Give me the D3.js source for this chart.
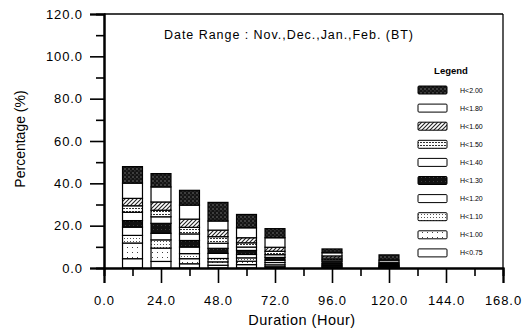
<!DOCTYPE html>
<html><head><meta charset="utf-8">
<script src="https://cdn.jsdelivr.net/npm/d3@7"></script>
<style>
body{margin:0;background:#fff}
svg{display:block}
text{font-family:"Liberation Sans",Arial,sans-serif;fill:#000}
</style>
</head><body>
<svg id="c" width="522" height="333"></svg>
<script>
// ---- data ----
const durations = [12, 24, 36, 48, 60, 72, 96, 120];
const classes = ["H<0.75","H<1.00","H<1.10","H<1.20","H<1.30","H<1.40","H<1.50","H<1.60","H<1.80","H<2.00"];
const h075 = [4.4, 3.1, 2.0, 1.3, 1.6, 0.6, 0.4, 0.2];
const h100 = [7.4, 6.3, 2.4, 1.6, 1.6, 0.9, 0.5, 0.2];
const h110 = [3.6, 3.9, 2.4, 1.6, 1.6, 1.1, 0.5, 0.2];
const h120 = [3.9, 3.1, 3.1, 2.4, 1.6, 1.1, 0.6, 0.3];
const h130 = [3.1, 4.7, 3.1, 2.4, 1.9, 1.3, 1.2, 0.3];
const h140 = [3.9, 3.1, 3.1, 2.4, 1.6, 1.3, 0.7, 0.4];
const h150 = [3.1, 3.1, 3.1, 3.1, 2.0, 1.6, 0.8, 0.5];
const h160 = [3.5, 3.9, 3.9, 3.1, 2.4, 1.9, 1.0, 0.6];
const h180 = [7.2, 7.1, 6.6, 4.3, 4.7, 4.5, 1.5, 1.0];
const h200 = [7.8, 6.3, 7.0, 8.8, 6.3, 4.3, 1.8, 2.5];
const yTicks = [0, 20, 40, 60, 80, 100, 120];
const xTicks = [0, 24, 48, 72, 96, 120, 144, 168];
const titleText = "Date Range : Nov.,Dec.,Jan.,Feb. (BT)";
const xTitle = "Duration (Hour)";
const yTitle = "Percentage (%)";

const seriesVals = [h075,h100,h110,h120,h130,h140,h150,h160,h180,h200];
const fills = ["url(#pWhite)","url(#pDotSparse)","url(#pDotGray)","url(#pWhite)","url(#pBlack)","url(#pWhite)","url(#pDotFine)","url(#pHatch)","url(#pWhite)","url(#pDark)"];

const table = durations.map((d,i)=>{
  const o = {dur:d};
  classes.forEach((c,k)=>o[c]=seriesVals[k][i]);
  return o;
});

const svg = d3.select("#c");
const defs = svg.append("defs");
function pat(id, bg, size, draw){
  const p = defs.append("pattern").attr("id",id).attr("patternUnits","userSpaceOnUse")
    .attr("width",size).attr("height",size);
  p.append("rect").attr("width",size).attr("height",size).attr("fill",bg);
  if(draw) draw(p);
}
pat("pWhite","#fff",4);
pat("pBlack","#111",4,p=>p.append("rect").attr("x",1).attr("y",1).attr("width",0.8).attr("height",0.8).attr("fill","#555"));
pat("pDark","#141414",4,p=>{p.append("rect").attr("x",0.5).attr("y",0.5).attr("width",1).attr("height",1).attr("fill","#bbb");
  p.append("rect").attr("x",2.5).attr("y",2.5).attr("width",0.8).attr("height",0.8).attr("fill","#888");});
pat("pDotSparse","#fff",5,p=>p.append("rect").attr("x",2).attr("y",2).attr("width",1).attr("height",1).attr("fill","#444"));
pat("pDotGray","#fff",3,p=>p.append("rect").attr("x",1).attr("y",1).attr("width",1).attr("height",1).attr("fill","#555"));
pat("pDotFine","#fff",3,p=>{p.append("rect").attr("x",0).attr("y",1).attr("width",2).attr("height",1).attr("fill","#333");});
pat("pHatch","#fff",4,p=>{p.append("path").attr("d","M0,4 L4,0 M-1,1 L1,-1 M3,5 L5,3").attr("stroke","#222").attr("stroke-width",1.1);});

const x = d3.scaleLinear().domain([0,168]).range([104,503]);
const y = d3.scaleLinear().domain([0,120]).range([268,14]);
const barW = x(8.4)-x(0);

// bars
const stack = d3.stack().keys(classes)(table);
const g = svg.append("g");
stack.forEach((layer,k)=>{
  g.selectAll(null).data(layer).join("rect")
    .attr("x",d=>x(d.data.dur)-barW/2)
    .attr("y",d=>y(d[1]))
    .attr("width",barW)
    .attr("height",d=>y(d[0])-y(d[1]))
    .attr("fill",fills[k])
    .attr("stroke","#000").attr("stroke-width",1.2);
});

// frame
svg.append("line").attr("x1",x(0)).attr("x2",x(168)).attr("y1",y(120)).attr("y2",y(120)).attr("stroke","#000").attr("stroke-width",1.3);
svg.append("line").attr("x1",x(168)).attr("x2",x(168)).attr("y1",y(120)).attr("y2",y(0)).attr("stroke","#000").attr("stroke-width",1.3);

// axes
const fmt = d3.format(".1f");
svg.append("g").attr("transform",`translate(0,${y(0)})`)
  .call(d3.axisBottom(x).tickValues(xTicks).tickSize(15).tickPadding(13).tickFormat(fmt));
svg.append("g").attr("transform",`translate(0,${y(0)})`)
  .call(d3.axisBottom(x).tickValues([12,36,60,84,108,132,156]).tickSize(8).tickFormat(""));
svg.append("g").attr("transform",`translate(${x(0)},0)`)
  .call(d3.axisLeft(y).tickValues(yTicks).tickSize(14).tickPadding(7).tickFormat(fmt));
svg.append("g").attr("transform",`translate(${x(0)},0)`)
  .call(d3.axisLeft(y).tickValues([10,30,50,70,90,110]).tickSize(8).tickFormat(""));
svg.selectAll(".domain").attr("stroke","#000").attr("stroke-width",2);
svg.selectAll(".tick line").attr("stroke","#000").attr("stroke-width",1.6);
svg.selectAll("g").filter(function(){return this.getAttribute("font-family");}).attr("font-family",null).attr("font-size",null);
svg.selectAll(".tick text").attr("font-size",13).attr("letter-spacing","0.9px").attr("fill","#000");

// titles
svg.append("text").attr("x",302).attr("y",325).attr("text-anchor","middle").attr("font-size",14.5).attr("letter-spacing","0.5px").text(xTitle);
svg.append("text").attr("transform","translate(25,139) rotate(-90)").attr("text-anchor","middle").attr("font-size",14).text(yTitle);
svg.append("text").attr("x",164).attr("y",39).attr("font-size",12.5)
  .attr("textLength",249).attr("lengthAdjust","spacing").text(titleText);

// legend
svg.append("text").attr("x",451).attr("y",74).attr("text-anchor","middle").attr("font-size",9.5).attr("font-weight","bold").text("Legend");
const legendItems = classes.map((c,k)=>({c,k})).reverse();
const lg = svg.append("g");
legendItems.forEach((it,i)=>{
  const cy = 90 + i*18.1;
  lg.append("rect").attr("x",418).attr("y",cy-4).attr("width",29).attr("height",8)
    .attr("rx",1).attr("fill",fills[it.k]).attr("stroke","#000").attr("stroke-width",1);
  lg.append("text").attr("x",460).attr("y",cy+2.5).attr("font-size",7).text(it.c);
});
</script>
</body></html>
